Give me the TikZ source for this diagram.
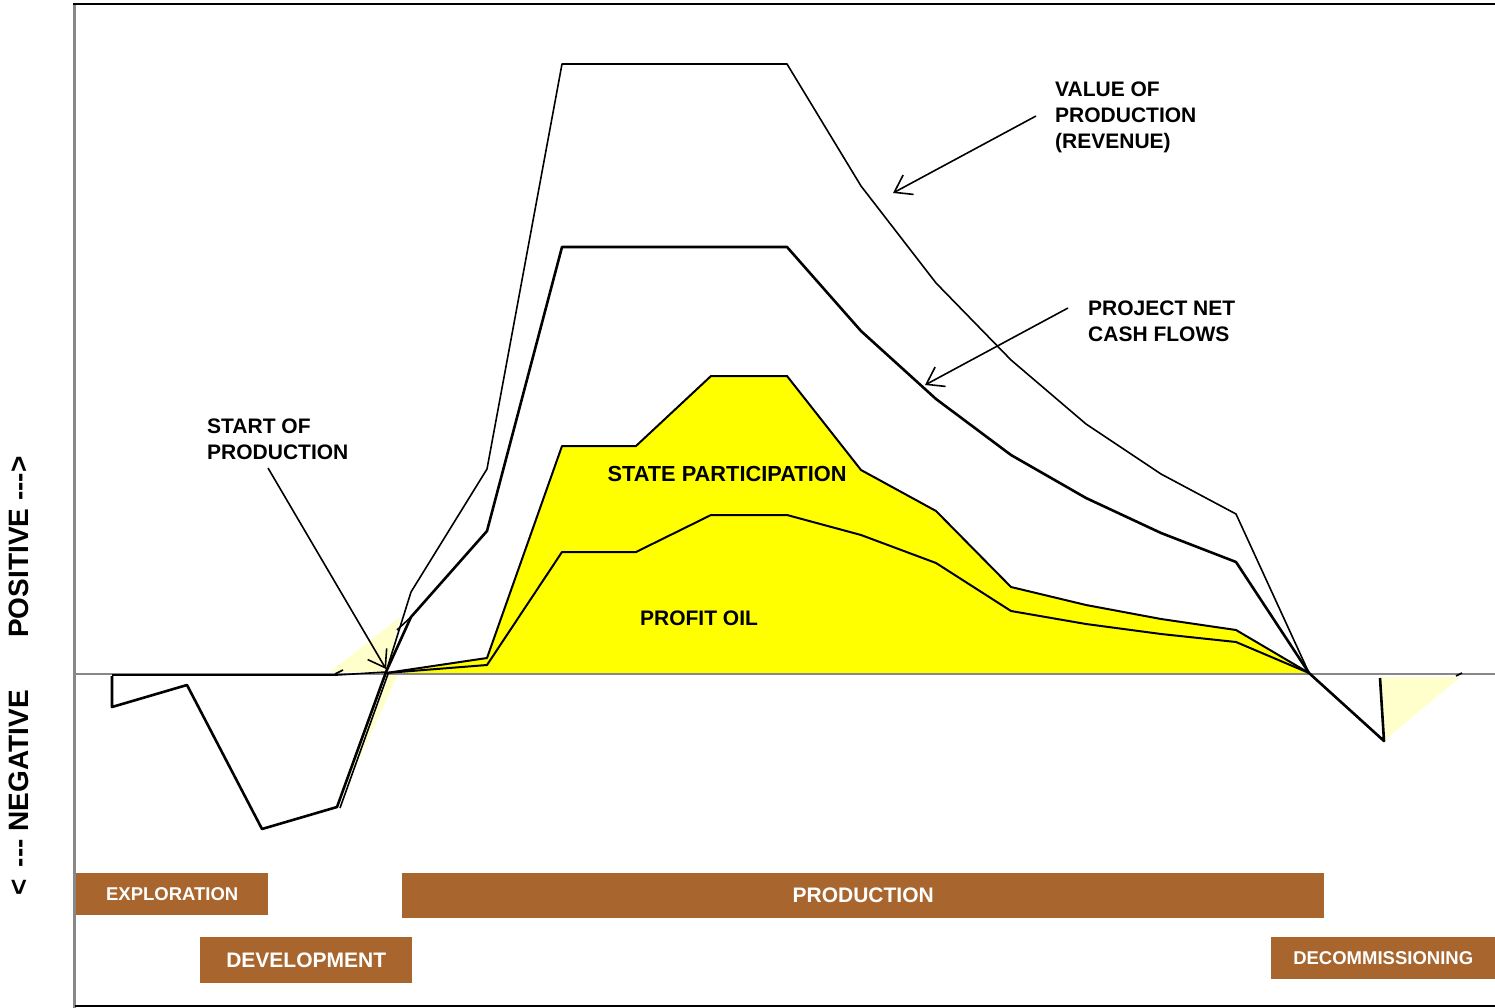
\documentclass[tikz,border=0pt]{standalone}
\usepackage{fontspec}
\newfontfamily\labfont{Liberation Sans}
\usetikzlibrary{arrows.meta}
\definecolor{brownbar}{RGB}{168,101,45}
\definecolor{sy}{RGB}{255,255,0}
\definecolor{ly}{RGB}{255,255,204}
\definecolor{axisgray}{RGB}{136,136,136}
\newcommand{\dsh}{-\kern0pt-\kern0pt-}
\begin{document}
\begin{tikzpicture}[x=1pt,y=-1pt,
  lab/.style={font=\labfont\bfseries\fontsize{21}{26}\selectfont, inner sep=0pt, align=left},
  vlab/.style={font=\labfont\bfseries\fontsize{28}{32}\selectfont, inner sep=0pt, rotate=90},
  barbig/.style={fill=brownbar, text=white, inner sep=0pt, font=\labfont\bfseries\fontsize{21}{25}\selectfont},
  barsmall/.style={fill=brownbar, text=white, inner sep=0pt, font=\labfont\bfseries\fontsize{18.5}{22}\selectfont},
  rev/.style={line width=1.6pt, line join=round},
  cash/.style={line width=2.6pt, line join=round},
  share/.style={line width=2pt, line join=round},
  arr/.style={line width=1.6pt, -{Straight Barb[length=16pt,width=22pt]}},
]
\useasboundingbox (0,0) rectangle (1495,1008);

% light yellow artefacts
\fill[ly] (330,672) -- (400,617) -- (388,672) -- cycle;
\fill[ly] (337,807) -- (385,675) -- (398,675) -- cycle;
\fill[ly] (1381,677) -- (1460,677) -- (1385,740) -- cycle;

% state participation area
\fill[sy] (386,673) -- (487,658) -- (562,446) -- (636,446) -- (711,376) -- (787,376)
  -- (861,470) -- (936,511) -- (1011,587) -- (1086,605) -- (1161,619) -- (1236,630)
  -- (1309,673) -- cycle;

% axis
\draw[axisgray, line width=2pt] (74,674) -- (1495,674);

% state participation outline
\draw[share] (386,673) -- (487,658) -- (562,446) -- (636,446) -- (711,376) -- (787,376)
  -- (861,470) -- (936,511) -- (1011,587) -- (1086,605) -- (1161,619) -- (1236,630)
  -- (1309,673);
% profit oil line
\draw[share] (386,673) -- (487,665) -- (562,552) -- (636,552) -- (711,515) -- (787,515)
  -- (861,535) -- (936,563) -- (1011,611) -- (1086,624) -- (1161,634) -- (1236,642)
  -- (1309,673);

% value of production (revenue)
\draw[rev] (112,675) -- (337,675) -- (386,672) -- (411,592) -- (487,469) -- (562,64) -- (787,64)
  -- (861,186) -- (936,283) -- (1011,360) -- (1086,424) -- (1161,474) -- (1236,514)
  -- (1309,673) -- (1384,741);
\draw[rev] (340,808) -- (388,674);

% project net cash flows
\draw[cash] (112,676) -- (112,707) -- (187,685) -- (262,829) -- (337,807) -- (386,672)
  -- (411,617) -- (487,531) -- (562,247) -- (787,247) -- (861,331) -- (936,399)
  -- (1011,455) -- (1086,498) -- (1161,533) -- (1236,562) -- (1309,673) -- (1384,741)
  -- (1380,678);
\draw[rev] (397,630) -- (411,617);
\draw[rev] (335,674) -- (343,670);
\draw[rev] (1456,676) -- (1462,673);

% labels
\node[lab, anchor=north west] (valab) at (1055,81.5) {VALUE OF\\PRODUCTION\\(REVENUE)};
\node[lab, anchor=north west] (cflab) at (1088,300.5) {PROJECT NET\\CASH FLOWS};
\node[lab, anchor=north west] (splab) at (207,418.5) {START OF\\PRODUCTION};
\node[lab, font=\labfont\bfseries\fontsize{21.8}{26}\selectfont] (stlab) at (727,474) {STATE PARTICIPATION};
\node[lab] (polab) at (699,618) {PROFIT OIL};

\coordinate (vastart) at (1036,116);
\coordinate (vatip) at (893,193);
\coordinate (cfstart) at (1068,308);
\coordinate (cftip) at (925,385);
\coordinate (spstart) at (268,468);
\coordinate (sptip) at (386,669);
\draw[arr] (vastart) -- (vatip);
\draw[arr] (cfstart) -- (cftip);
\draw[arr] (spstart) -- (sptip);

% vertical axis label
\node[vlab, anchor=west] (poslab) at (19,638) {POSITIVE \dsh>};
\node[vlab, anchor=east] (neglab) at (19,690) {<\hspace{4pt} \dsh\ NEGATIVE};

% phase bars
\node[barsmall, minimum width=192pt, minimum height=42pt, anchor=north west] (expl) at (76,873) {EXPLORATION};
\node[barbig, minimum width=212pt, minimum height=46pt, anchor=north west] (dev) at (200,937) {DEVELOPMENT};
\node[barbig, minimum width=922pt, minimum height=45pt, anchor=north west] (prod) at (402,873) {PRODUCTION};
\node[barsmall, minimum width=224pt, minimum height=42pt, anchor=north west] (decom) at (1271,937) {DECOMMISSIONING};

% frame
\draw[axisgray, line width=3pt] (74,3) -- (74,1008);
\draw[line width=2.5pt] (73,4) -- (1495,4);
\draw[line width=2pt] (75,1006) -- (1495,1006);
\end{tikzpicture}
\end{document}
